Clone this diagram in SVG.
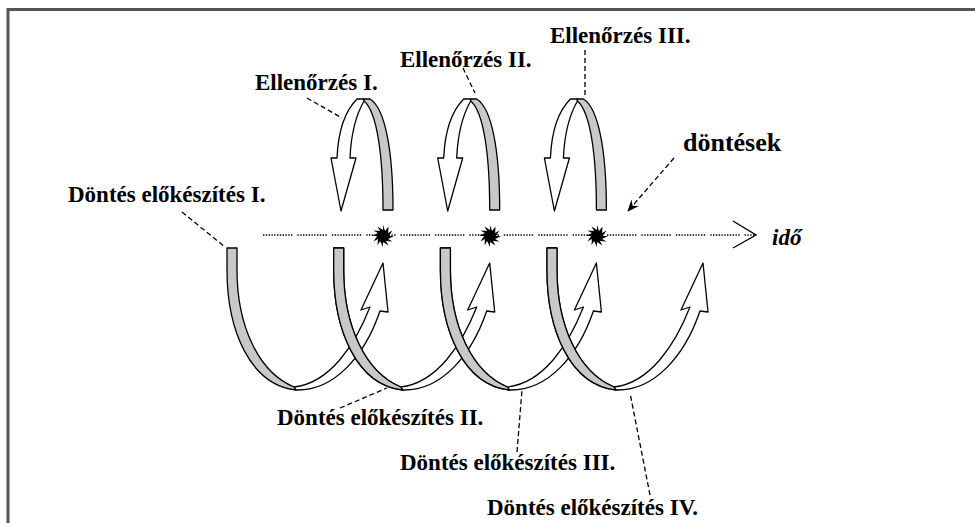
<svg xmlns="http://www.w3.org/2000/svg" xmlns:xlink="http://www.w3.org/1999/xlink" width="975" height="523" viewBox="0 0 975 523">
<style>
.t{font-family:"Liberation Serif","Times New Roman",serif;font-weight:bold;font-size:23px;fill:#000}
.ti{font-style:italic}
.gray{fill:#c8c8c8;stroke:#000;stroke-width:1.3;stroke-linejoin:round}
.white{fill:#fff;stroke:#000;stroke-width:1.3;stroke-linejoin:round}
.dash{fill:none;stroke:#000;stroke-width:1.3;stroke-dasharray:5 3}
.frame{fill:none;stroke:#555;stroke-width:3}
</style>
<defs>
<g id="lowerWhite">
<path class="white" d="M294,387 C330,383 355,345 370,307 L361,310 L383,263 L388,312 L380,311 C365,355 335,391 296,390 Z"/>
</g>
<g id="lowerGray">
<path class="gray" d="M227,248 L237,248 L237,270 C237,325 258,372 294,387 L296,390 C250,385 227,330 227,270 Z"/>
</g>
<g id="upperLoop">
<path class="white" d="M364,101 C356,115 351,135 350,158 L356,158 L341,211 L331,158 L337,158 C338,135 344,112 357,99 L364,99 Z"/>
<path class="gray" d="M364,101 C377,112 383,155 383,210 L393,210 C393,150 385,108 370,99 L364,99 Z"/>
</g>
<path id="star" d="M0,-11 L2.1,-5.1 L5.5,-9.5 L5.1,-2.9 L9.5,-5.5 L5.9,0 L11,0 L5.1,2.9 L9.5,5.5 L2.9,5.1 L5.5,9.5 L0,5.9 L0,11 L-2.9,5.1 L-5.5,9.5 L-5.1,2.9 L-9.5,5.5 L-5.9,0 L-11,0 L-5.1,-2.9 L-9.5,-5.5 L-2.9,-5.1 L-5.5,-9.5 L0,-5.9 Z" fill="#000"/>
<marker id="barb" viewBox="0 0 12 10" refX="11" refY="5" markerWidth="12" markerHeight="10" markerUnits="userSpaceOnUse" orient="auto">
<path d="M0,0 L12,5 L0,10 L4,5 Z" fill="#000"/>
</marker>
</defs>

<g id="frame">
<line class="frame" x1="8" y1="9.5" x2="975" y2="9.5"/>
<line class="frame" x1="8" y1="8" x2="8" y2="523"/>
</g>

<g id="time-axis">
<line x1="263" y1="235" x2="755" y2="235" stroke="#000" stroke-width="1.4" stroke-dasharray="1.4 1.4 1.4 1.4 1.4 1.4 1.4 1.4 1.4 1.4 1.4 1.4 1.4 1.4 1.4 1.4 1.4 1.4 1.4 1.4 1.4 5"/>
<polyline points="733,221 756,235 733,248" fill="none" stroke="#000" stroke-width="1.4"/>
<text class="t ti" x="772" y="245">idő</text>
</g>

<g id="lower-loop-1">
<use xlink:href="#lowerWhite" href="#lowerWhite"/>
<use xlink:href="#lowerGray" href="#lowerGray"/>
</g>
<g id="lower-loop-2" transform="translate(106.7,0)">
<use xlink:href="#lowerWhite" href="#lowerWhite"/>
<use xlink:href="#lowerGray" href="#lowerGray"/>
</g>
<g id="lower-loop-3" transform="translate(213.4,0)">
<use xlink:href="#lowerWhite" href="#lowerWhite"/>
<use xlink:href="#lowerGray" href="#lowerGray"/>
</g>
<g id="lower-loop-4" transform="translate(320,0)">
<use xlink:href="#lowerWhite" href="#lowerWhite"/>
<use xlink:href="#lowerGray" href="#lowerGray"/>
</g>
<g id="lower-loop-2-gray-front" transform="translate(106.7,0)"><use xlink:href="#lowerGray" href="#lowerGray"/></g>
<g id="lower-loop-3-gray-front" transform="translate(213.4,0)"><use xlink:href="#lowerGray" href="#lowerGray"/></g>
<g id="lower-loop-4-gray-front" transform="translate(320,0)"><use xlink:href="#lowerGray" href="#lowerGray"/></g>

<g id="upper-loop-1"><use xlink:href="#upperLoop" href="#upperLoop"/></g>
<g id="upper-loop-2" transform="translate(106.7,0)"><use xlink:href="#upperLoop" href="#upperLoop"/></g>
<g id="upper-loop-3" transform="translate(213.4,0)"><use xlink:href="#upperLoop" href="#upperLoop"/></g>

<g id="decisions">
<use xlink:href="#star" href="#star" x="383" y="236"/>
<use xlink:href="#star" href="#star" x="490" y="236"/>
<use xlink:href="#star" href="#star" x="597" y="236"/>
</g>

<g id="connectors">
<line class="dash" x1="307" y1="98" x2="342" y2="118"/>
<line class="dash" x1="463" y1="68" x2="475" y2="93"/>
<line class="dash" x1="585" y1="50" x2="585" y2="97"/>
<line class="dash" x1="182" y1="212" x2="225" y2="247"/>
<line class="dash" x1="340" y1="408" x2="387" y2="388"/>
<line class="dash" x1="517" y1="452" x2="522" y2="390"/>
<line class="dash" x1="650" y1="495" x2="630" y2="393"/>
<line class="dash" x1="674" y1="158" x2="628" y2="211" marker-end="url(#barb)"/>
</g>

<g id="labels">
<text class="t" x="255" y="90">Ellenőrzés I.</text>
<text class="t" x="400" y="67">Ellenőrzés II.</text>
<text class="t" x="550" y="43">Ellenőrzés III.</text>
<text class="t" x="683" y="151" style="font-size:26px">döntések</text>
<text class="t" x="68" y="202">Döntés előkészítés I.</text>
<text class="t" x="277" y="425">Döntés előkészítés II.</text>
<text class="t" x="400" y="470">Döntés előkészítés III.</text>
<text class="t" x="487" y="515">Döntés előkészítés IV.</text>
</g>
</svg>
